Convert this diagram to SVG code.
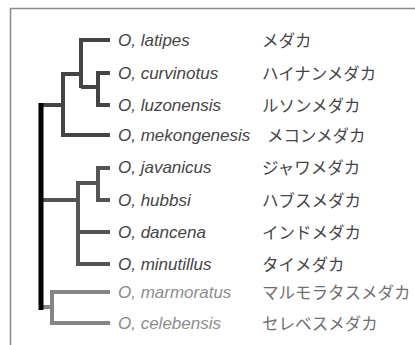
<svg xmlns="http://www.w3.org/2000/svg" width="415" height="345" viewBox="0 0 415 345">
  <style>
    .frame { fill: none; stroke: #8a8a8a; stroke-width: 1.5; }
    .br { fill: none; stroke-width: 4; stroke-linejoin: miter; stroke-linecap: butt; }
    .c1 { stroke: #444444; }
    .c2 { stroke: #555555; }
    .c3 { stroke: #858585; }
    .root { fill: none; stroke: #000000; stroke-width: 5; }
    .sp { font-family: "Liberation Sans", Arial, sans-serif; font-style: italic; font-size: 17px; fill: #454545; }
    .jp { font-family: "Noto Sans CJK JP", "Noto Sans", sans-serif; font-size: 16.5px; fill: #454545; }
    .pale { fill: #8c8c8c; }
    .palejp { fill: #707070; }
  </style>
  <rect width="415" height="345" fill="#ffffff"/>
  <path class="frame" d="M10.5,345 V8.5 H415"/>

  <g id="connectors">
    <!-- latipes / curvinotus / luzonensis / mekongenesis clade -->
    <path class="br c1" d="M110,40 H81 V88"/>
    <path class="br c1" d="M110,73 H98 V105 H110"/>
    <path class="br c1" d="M81,87 H98"/>
    <path class="br c1" d="M81,74 H63 V135 H110"/>
    <path class="br c1" d="M41,105 H63"/>
    <!-- javanicus / hubbsi / dancena / minutillus clade -->
    <path class="br c2" d="M110,168 H98 V200 H110"/>
    <path class="br c2" d="M98,183 H78 V264 H110"/>
    <path class="br c2" d="M78,232 H110"/>
    <path class="br c2" d="M41,200 H78"/>
    <!-- marmoratus / celebensis clade -->
    <path class="br c3" d="M110,292 H52 V323 H110"/>
    <path class="br c3" d="M41,307 H52"/>
    <!-- root -->
    <path class="root" d="M41,103 V310"/>
  </g>

  <g id="latipes"><text class="sp" x="118" y="46">O, latipes</text><text class="jp" x="262" y="47">メダカ</text></g>
  <g id="curvinotus"><text class="sp" x="118" y="79">O, curvinotus</text><text class="jp" x="262" y="80">ハイナンメダカ</text></g>
  <g id="luzonensis"><text class="sp" x="118" y="111">O, luzonensis</text><text class="jp" x="262" y="112">ルソンメダカ</text></g>
  <g id="mekongenesis"><text class="sp" x="118" y="141">O, mekongenesis</text><text class="jp" x="267" y="142">メコンメダカ</text></g>
  <g id="javanicus"><text class="sp" x="118" y="173">O, javanicus</text><text class="jp" x="262" y="174">ジャワメダカ</text></g>
  <g id="hubbsi"><text class="sp" x="118" y="206">O, hubbsi</text><text class="jp" x="262" y="207">ハブスメダカ</text></g>
  <g id="dancena"><text class="sp" x="118" y="238">O, dancena</text><text class="jp" x="262" y="239">インドメダカ</text></g>
  <g id="minutillus"><text class="sp" x="118" y="270">O, minutillus</text><text class="jp" x="262" y="271">タイメダカ</text></g>
  <g id="marmoratus"><text class="sp pale" x="118" y="298">O, marmoratus</text><text class="jp palejp" x="262" y="299">マルモラタスメダカ</text></g>
  <g id="celebensis"><text class="sp pale" x="118" y="329">O, celebensis</text><text class="jp palejp" x="262" y="330">セレベスメダカ</text></g>
</svg>
